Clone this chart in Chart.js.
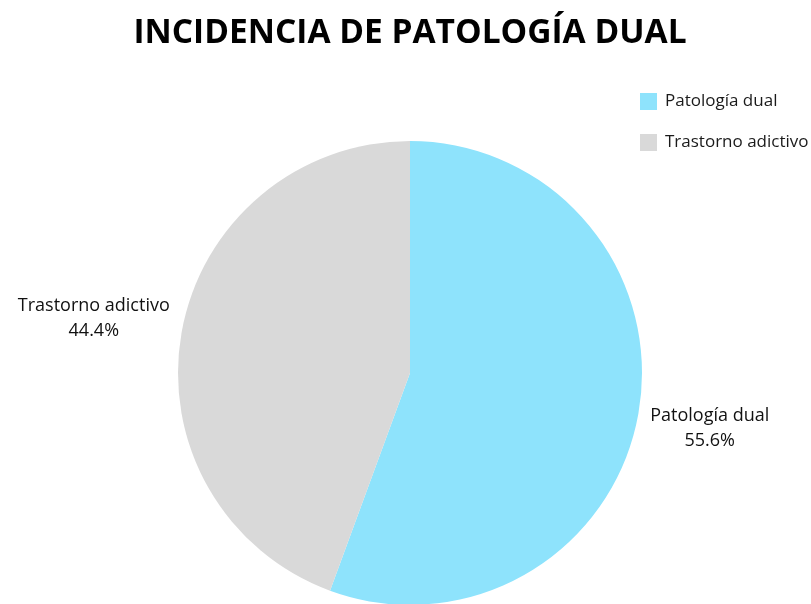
<!DOCTYPE html>
<html>
<head>
<meta charset="utf-8">
<script src="https://cdn.jsdelivr.net/npm/chart.js@4.4.1/dist/chart.umd.min.js"></script>
<style>
  html, body { margin: 0; padding: 0; background: #fff; overflow: hidden; }
  #wrap { position: relative; width: 811px; height: 620px; }
</style>
</head>
<body>
<div id="wrap"><canvas id="pieChart"></canvas></div>
<script>
// Daten
const categories = ['Patología dual', 'Trastorno adictivo'];
const values = [55.6, 44.4];
const colors = ['#8ee3fc', '#d9d9d9'];
const titleText = 'INCIDENCIA DE PATOLOGÍA DUAL';

const FONT = "'Open Sans', sans-serif";

// Beschriftungen außerhalb der Segmente
const outsideLabels = {
    id: 'outsideLabels',
    afterDatasetsDraw(chart) {
        const ctx = chart.ctx;
        const meta = chart.getDatasetMeta(0);
        const total = values.reduce((a, b) => a + b, 0);
        ctx.save();
        ctx.font = '18px ' + FONT;
        ctx.fillStyle = '#111';
        ctx.textAlign = 'center';
        ctx.textBaseline = 'middle';
        meta.data.forEach((arc, i) => {
            const mid = (arc.startAngle + arc.endAngle) / 2;
            const r = arc.outerRadius;
            const lines = [categories[i], (values[i] / total * 100).toFixed(1) + '%'];
            const w = Math.max(...lines.map(t => ctx.measureText(t).width));
            const cos = Math.cos(mid), sin = Math.sin(mid);
            let x = arc.x + cos * (r + 12);
            x += cos >= 0 ? w / 2 : -w / 2;
            const y = arc.y + sin * (r + 82);
            ctx.fillText(lines[0], x, y - 12);
            ctx.fillText(lines[1], x, y + 13);
        });
        ctx.restore();
    }
};

// Legende oben rechts
const cornerLegend = {
    id: 'cornerLegend',
    afterDraw(chart) {
        const ctx = chart.ctx;
        ctx.save();
        ctx.font = '17px ' + FONT;
        ctx.textBaseline = 'middle';
        categories.forEach((name, i) => {
            const y = 101 + i * 41;
            ctx.fillStyle = colors[i];
            ctx.fillRect(640, y - 8, 17, 17);
            ctx.fillStyle = '#1a1a1a';
            ctx.fillText(name, 665, y);
        });
        ctx.restore();
    }
};

document.addEventListener("DOMContentLoaded", function () {
    const ctx = document.getElementById('pieChart').getContext('2d');
    new Chart(ctx, {
        type: 'pie',
        data: {
            labels: categories,
            datasets: [{
                data: values,
                backgroundColor: colors,
                borderWidth: 0
            }]
        },
        options: {
            responsive: true,
            maintainAspectRatio: false,
            animation: false,
            layout: { padding: { left: 9, right: 0, top: 0, bottom: 15 } },
            plugins: {
                legend: { display: false },
                tooltip: { enabled: false },
                title: {
                    display: true,
                    text: titleText,
                    color: '#000',
                    font: { family: FONT, size: 33.5, weight: 'bold', lineHeight: 1.2 },
                    padding: { top: 13, bottom: 87.8 }
                }
            }
        },
        plugins: [outsideLabels, cornerLegend]
    });
});
</script>
</body>
</html>
